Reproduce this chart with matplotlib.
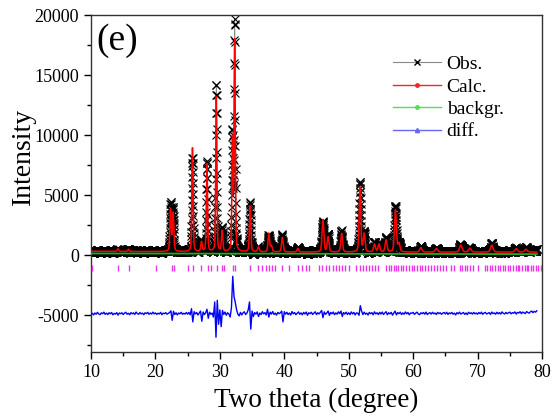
import numpy as np
import matplotlib
matplotlib.use("Agg")
import matplotlib.pyplot as plt
from matplotlib.lines import Line2D
from matplotlib.ticker import MultipleLocator

plt.rcParams['font.family'] = ['Liberation Serif', 'DejaVu Serif']
plt.rcParams['axes.unicode_minus'] = False

# ---------------- data ----------------
# reflections: position (deg), calculated height, observed height (above baseline), FWHM (deg)
peak_pos = [14.2, 15.8, 22.35, 22.75, 25.75, 27.15, 28.0, 29.45, 30.35, 31.95, 32.3,
            34.7, 36.0, 37.6, 38.0, 39.7, 42.1, 46.0, 46.8, 48.9, 51.75, 52.4,
            54.0, 54.7, 55.8, 57.25, 57.8, 61.2, 63.6, 67.4, 68.8, 72.2, 76.0, 77.5]
calc_height = [220, 180, 3500, 3200, 8700, 800, 7300, 13000, 1700, 9200, 17500,
               3800, 400, 1550, 500, 1200, 300, 2700, 1250, 1550, 5400, 1500,
               650, 650, 1000, 3500, 700, 380, 300, 600, 330, 580, 280, 240]
obs_height = [250, 200, 3800, 3400, 8100, 900, 7300, 14200, 1700, 9400, 18900,
              3900, 450, 1600, 500, 1250, 320, 2800, 1300, 1600, 5550, 1550,
              700, 700, 1050, 3650, 750, 420, 330, 650, 350, 620, 300, 260]
peak_fwhm = [0.25, 0.25, 0.25, 0.25, 0.22, 0.25, 0.22, 0.2, 0.25, 0.2, 0.22,
             0.25, 0.3, 0.28, 0.3, 0.3, 0.3, 0.32, 0.32, 0.32, 0.3, 0.32,
             0.35, 0.35, 0.35, 0.35, 0.35, 0.4, 0.45, 0.45, 0.45, 0.45, 0.45, 0.45]

# background (linear-interpolated refinement background) knots
bg_knot_x = [10, 20, 30, 40, 50, 60, 70, 79.2]
bg_knot_y = [130, 120, 115, 110, 100, 90, 80, 75]
# extra diffuse level carried by the calculated pattern above the background
diffuse_knot_y = [180, 170, 150, 140, 140, 150, 160, 170]

# obs - calc residual, sampled every 0.2 deg from 10.0
diff_resid = [
    -80, 20, -120, 40, -60, 90, -40, -100, 50, -20, 110, -70, 30, -90, 60, -30, 80, -110, 10, -50, 70, -140, 40, -20, 60,
    -90, 30, 100, -60, 20, -110, 70, -30, 50, -80, 120, -20, -60, 80, -40, 30, -100, 60, -10, 90, -70, 40, -50, 110, -30,
    50, -80, 20, -40, 90, -100, 30, -20, 70, -60, 10, 80, 220, -570, 180, -90, 60, -120, 40, -30, 100, -70, 20, -50, 80,
    -60, 90, -110, 400, -700, 150, -40, 80, -130, 30, 200, -650, 120, -90, 60, 350, -400, 110, -70, 40, -300, 960, -1980, 1100, -900,
    300, -1100, 250, -80, 120, -150, 60, -40, -300, 500, 3100, 1400, 900, 300, -60, -200, 90, -120, 50, 140, -90, 30, 300, 960, -1300,
    200, -250, 80, -60, 130, -250, 40, -90, 150, -30, 70, -120, 350, -300, 110, -50, 160, -80, 30, -140, 90, -20, 60, 200, -700,
    150, -60, 100, -90, 40, -130, 160, -30, 80, -100, 20, 130, -70, 50, -110, 90, -40, 120, -150, 60, -20, 100, -80, 30, 140,
    -90, 60, -40, 110, 250, -350, 130, -70, 40, 200, -160, 90, -30, 120, -100, 50, -60, 140, -20, 200, -250, 80, -50, 110, -80,
    60, -100, 130, -40, 90, -120, 50, 20, -150, 650, 200, -90, 110, -60, 30, -130, 90, -20, 70, -110, 140, -40, 60, -90, 100,
    -50, 120, -80, 30, 150, -110, 60, -30, 90, -140, 40, 200, -120, 70, -20, 110, -90, 50, -60, 130, -30, 80, -110, 40, 20,
    90, -70, 30, 110, -40, -100, 60, -20, 80, -60, 120, -90, 10, 70, -50, 100, -30, 40, -80, 90, -10, 60, -70, 30, 80,
    -40, 100, -80, 50, -20, 90, -60, 30, -120, 70, -30, 110, -50, 20, 80, -70, 40, -90, 100, -10, 60, -50, 90, -30, 40,
    -60, 80, -20, 110, -70, 40, 90, -40, 20, 70, -80, 120, -10, 50, -60, 100, -30, 80, -50, 130, 10, -40, 90, -20, 60,
    110, -30, 70, 20, 130, -50, 90, 40, 150, -20, 120, 60, -10, 160, 80, 30, 140, 200, 70, 180, 110, 220,
]
diff_offset = -4870

# Bragg reflection positions (deg)
bragg_pos = [10.1, 14.2, 15.9, 20.1, 22.6, 22.9, 25.1, 25.8, 27.0, 28.1, 28.6, 29.5, 30.4, 30.7,
             32.1, 32.3, 34.7, 35.9, 36.6, 37.1, 37.6, 38.1, 38.6, 39.7, 40.8, 42.2, 42.8, 43.4,
             43.9, 45.4, 45.9, 46.4, 46.9, 47.5, 48.0, 48.5, 49.0, 49.5, 50.0, 51.2, 51.7, 52.2,
             52.7, 53.2, 53.6, 54.1, 54.5, 55.8, 56.2, 56.6, 57.0, 57.3, 57.7, 58.1, 58.5, 58.9,
             59.3, 59.8, 60.2, 60.6, 61.0, 61.4, 61.8, 62.3, 62.8, 63.3, 63.7, 64.2, 64.6, 65.1,
             65.9, 66.4, 67.2, 67.6, 68.0, 68.4, 68.9, 69.3, 70.0, 71.1, 71.5, 71.9, 72.3, 72.7,
             73.1, 73.5, 73.9, 74.3, 74.7, 75.1, 75.5, 75.9, 76.2, 76.5, 76.9, 77.3, 77.6, 77.9,
             78.3, 78.6, 79.0, 79.4, 79.8]

x_ticks = [10, 20, 30, 40, 50, 60, 70, 80]
y_ticks = [-5000, 0, 5000, 10000, 15000, 20000]

# ---------------- build the curves ----------------
x_fine = np.arange(10.0, 79.2001, 0.02)

def pseudo_voigt(x, pos, h, w, eta=0.35):
    g = np.exp(-4 * np.log(2) * ((x - pos) / w) ** 2)
    l = 1.0 / (1.0 + 4 * ((x - pos) / w) ** 2)
    return h * (eta * l + (1 - eta) * g)

bg_fine = np.interp(x_fine, bg_knot_x, bg_knot_y)
diffuse_fine = np.interp(x_fine, bg_knot_x, diffuse_knot_y)
calc = bg_fine + diffuse_fine
obs_clean = bg_fine + diffuse_fine
for p, hc, ho, w in zip(peak_pos, calc_height, obs_height, peak_fwhm):
    calc = calc + pseudo_voigt(x_fine, p, hc, w)
    obs_clean = obs_clean + pseudo_voigt(x_fine, p, ho, w)

resid = np.array(diff_resid, dtype=float)
x_diff = 10.0 + 0.2 * np.arange(len(resid))
idx = np.clip(np.rint((x_fine - 10.0) / 0.2).astype(int), 0, len(resid) - 1)
# counting noise of the observed points taken from the nearest measured residual
obs = obs_clean + np.clip(resid[idx], -250, 250)

# ---------------- plot ----------------
fig = plt.figure(figsize=(5.58, 4.19), dpi=100)
ax = fig.add_axes([91 / 558, 1 - 352 / 419, 451 / 558, 337 / 419])

ax.plot(x_fine, obs, color='#888888', lw=0.6, marker='x', ms=5.8, mec='black',
        mew=0.8, zorder=2)
ax.plot(x_fine, calc, color='#ff0000', lw=1.1, zorder=3)
ax.plot(x_fine, bg_fine, color='#22aa22', lw=1.3, zorder=4)
ax.plot(x_diff, resid + diff_offset, color='#0000ff', lw=1.0, zorder=3)
ax.vlines(bragg_pos, -1350, -800, color='#ee33ee', lw=1.0, zorder=3)

ax.set_xlim(10, 80)
ax.set_ylim(-8080, 20000)
ax.set_xticks(x_ticks)
ax.set_yticks(y_ticks)
ax.xaxis.set_minor_locator(MultipleLocator(5))
ax.yaxis.set_minor_locator(MultipleLocator(2500))
ax.tick_params(axis='both', which='major', direction='out', length=5, width=1,
               labelsize=13, top=False, right=False)
ax.tick_params(axis='both', which='minor', direction='out', length=3, width=1,
               top=False, right=False)
for s in ax.spines.values():
    s.set_linewidth(1.0)
    s.set_color('#333333')

ax.set_xlabel('Two theta (degree)', fontsize=19.5)
ax.xaxis.set_label_coords(0.5, -0.105)
ax.set_ylabel('Intensity', fontsize=20)
ax.yaxis.set_label_coords(-0.122, 0.58)
ax.text(0.012, 0.975, '(e)', transform=ax.transAxes, fontsize=27, va='top', ha='left')

handles = [
    Line2D([], [], color='#888888', lw=0.8, marker='x', ms=5, mec='black', mew=1.0),
    Line2D([], [], color='#ff2222', lw=1.0, marker='o', ms=2.5),
    Line2D([], [], color='#55dd55', lw=1.0, marker='o', ms=2.5),
    Line2D([], [], color='#6666ee', lw=1.0, marker='^', ms=3),
]
ax.legend(handles, ['Obs.', 'Calc.', 'backgr.', 'diff.'], loc='upper left',
          bbox_to_anchor=(0.67, 0.88), frameon=False, fontsize=14,
          handlelength=2.45, handletextpad=0.3, labelspacing=0.25, borderpad=0,
          borderaxespad=0)

fig.savefig('out.png', dpi=100)
